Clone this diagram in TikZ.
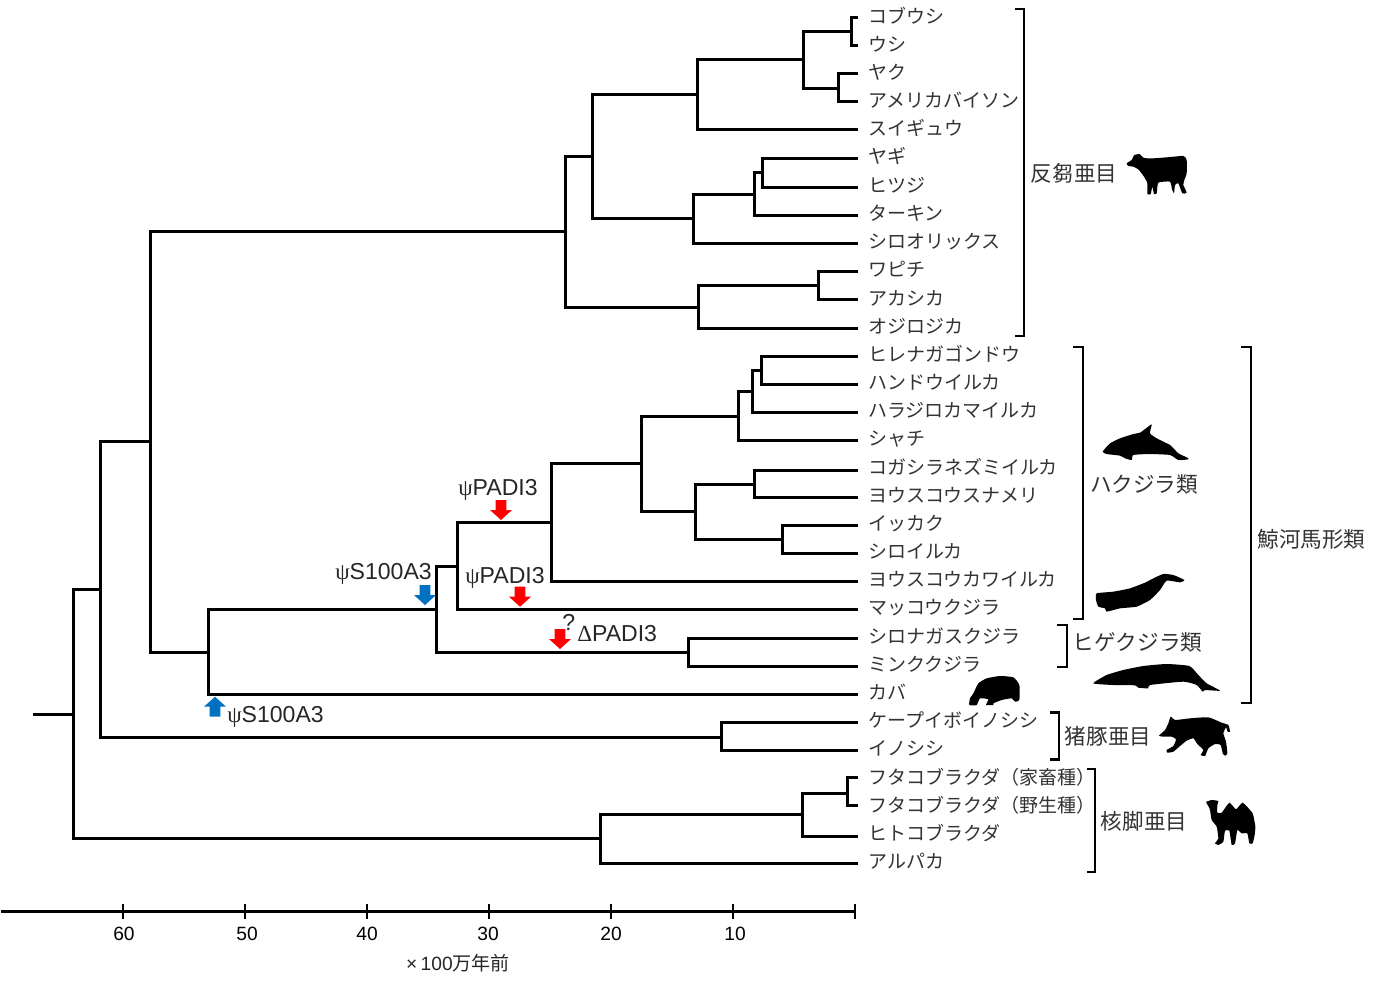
\documentclass[tikz,border=0pt]{standalone}
\usepackage{fontspec}
\setmainfont{Liberation Sans}
\newfontfamily\cjk{Noto Sans CJK JP}
\newfontfamily\grk{Liberation Serif}
\newcommand{\clade}[3]{\draw[treeline] (#2) -| (#1) |- (#3);}
\newcommand{\downarr}[3]{\fill[#1] (#2-5.3,#3-20) -- (#2+5.3,#3-20) -- (#2+5.3,#3-10) -- (#2+11,#3-10) -- (#2,#3) -- (#2-11,#3-10) -- (#2-5.3,#3-10) -- (#2-5.3,#3-20) -- cycle;}
\newcommand{\uparr}[3]{\fill[#1] (#2-5.3,#3+20) -- (#2+5.3,#3+20) -- (#2+5.3,#3+10) -- (#2+11,#3+10) -- (#2,#3) -- (#2-11,#3+10) -- (#2-5.3,#3+10) -- (#2-5.3,#3+20) -- cycle;}
\definecolor{ubl}{HTML}{0070C0}
\definecolor{txt}{HTML}{333333}
\tikzset{
 treeline/.style={line width=2.25pt,line join=miter,line cap=butt,black},
 bracket/.style={line width=2pt,black},
 lab/.style={anchor=west,inner sep=0pt,yshift=-.75pt,text=txt,font=\cjk\fontsize{14.25}{16}\selectfont,text height=.88em,text depth=.12em},
 grp/.style={anchor=center,inner sep=0pt,yshift=-.75pt,text=txt,font=\cjk\fontsize{16.2}{18}\selectfont,text height=.88em,text depth=.12em},
 gene/.style={anchor=west,inner sep=0pt,text=black!85,font=\fontsize{17.3}{19}\selectfont},
 tick/.style={anchor=center,inner sep=0pt,text=black,font=\fontsize{14.4}{16}\selectfont},
 sil/.style={fill=black,draw=none},
 axisline/.style={line width=2.25pt,black},
 axistick/.style={line width=2pt,black},
}
\begin{document}
\begin{tikzpicture}[x=.75pt,y=-.75pt]
\useasboundingbox (0,0) rectangle (1380,988);
% leaf labels
\foreach \nm/\yy/\ey/\tx in {
 1/17.5/18/コブウシ,2/45.5/46/ウシ,3/73.5/74/ヤク,4/101.5/102/アメリカバイソン,5/129.5/130/スイギュウ,
 6/157.5/159/ヤギ,7/186.5/187/ヒツジ,8/214.5/215/ターキン,9/242.5/243/シロオリックス,10/270.5/271/ワピチ,
 11/299.5/299/アカシカ,12/327.5/328/オジロジカ,13/355.5/356/ヒレナガゴンドウ,14/383.5/384/ハンドウイルカ,
 15/411.5/412/ハラジロカマイルカ,16/439.5/440/シャチ,17/468.5/470/コガシラネズミイルカ,18/496.5/497/ヨウスコウスナメリ,
 19/524.5/525/イッカク,20/552.5/553/シロイルカ,21/580.5/581/ヨウスコウカワイルカ,22/608.5/609/マッコウクジラ,
 23/637.5/638/シロナガスクジラ,24/665.5/666/ミンククジラ,25/693.5/694/カバ,26/721.5/722/ケープイボイノシシ,
 27/749.5/750/イノシシ,28/778.5/777/フタコブラクダ（家畜種）,29/806.5/805/フタコブラクダ（野生種）,
 30/834.5/836/ヒトコブラクダ,31/862.5/863/アルパカ}{
 \node[lab] (t\nm) at (868,\yy) {\tx};
 \coordinate (e\nm) at (858,\ey);
}
% internal nodes
\coordinate (root) at (73,714);
\coordinate (stub) at (33,714);
\coordinate (camel) at (600,838);
\coordinate (camelB) at (802,814);
\coordinate (camelC) at (847,793);
\coordinate (cet) at (100,589);
\coordinate (suid) at (721,737);
\coordinate (art) at (150,441);
\coordinate (rum) at (565,231);
\coordinate (rumA) at (592,157);
\coordinate (bov) at (697,95);
\coordinate (bovA) at (803,60);
\coordinate (bovB) at (851,32);
\coordinate (bovC) at (838,89);
\coordinate (cap) at (693,218);
\coordinate (capA) at (754,194);
\coordinate (capB) at (762,172);
\coordinate (cer) at (698,307);
\coordinate (cerA) at (818,285);
\coordinate (whip) at (208,652);
\coordinate (ceta) at (436,609);
\coordinate (myst) at (688,652);
\coordinate (odo) at (457,566);
\coordinate (odoA) at (551,522);
\coordinate (odoB) at (641,463);
\coordinate (delA) at (738,416);
\coordinate (delB) at (752,391);
\coordinate (delC) at (761,370);
\coordinate (phoA) at (695,511);
\coordinate (phoB) at (754,484);
\coordinate (monB) at (782,539);
% tree
\draw[treeline] (stub) -- (root);
\clade{root}{cet}{camel}
\clade{camel}{camelB}{e31}
\clade{camelB}{camelC}{e30}
\clade{camelC}{e28}{e29}
\clade{cet}{art}{suid}
\clade{suid}{e26}{e27}
\clade{art}{rum}{whip}
\clade{rum}{rumA}{cer}
\clade{rumA}{bov}{cap}
\clade{bov}{bovA}{e5}
\clade{bovA}{bovB}{bovC}
\clade{bovB}{e1}{e2}
\clade{bovC}{e3}{e4}
\clade{cap}{capA}{e9}
\clade{capA}{capB}{e8}
\clade{capB}{e6}{e7}
\clade{cer}{cerA}{e12}
\clade{cerA}{e10}{e11}
\clade{whip}{ceta}{e25}
\clade{ceta}{odo}{myst}
\clade{myst}{e23}{e24}
\clade{odo}{odoA}{e22}
\clade{odoA}{odoB}{e21}
\clade{odoB}{delA}{phoA}
\clade{delA}{delB}{e16}
\clade{delB}{delC}{e15}
\clade{delC}{e13}{e14}
\clade{phoA}{phoB}{monB}
\clade{phoB}{e17}{e18}
\clade{monB}{e19}{e20}
% brackets
\draw[bracket] (1015,9) -| (1024,336) -- (1015,336);
\draw[bracket] (1073,347) -| (1083,619) -- (1073,619);
\draw[bracket] (1241,347) -| (1251,703) -- (1241,703);
\draw[bracket] (1057,625) -| (1067,667) -- (1057,667);
\draw[bracket] (1050,712.5) -| (1059,759.5) -- (1050,759.5);
\draw[bracket] (1087,769) -| (1095,872) -- (1087,872);
% group labels
\node[grp] (g1) at (1074,175.5) {反芻亜目};
\node[grp] (g2) at (1144,486.5) {ハクジラ類};
\node[grp] (g3) at (1311.5,541.5) {鯨河馬形類};
\node[grp] (g4) at (1137.5,644.5) {ヒゲクジラ類};
\node[grp] (g5) at (1108,738.5) {猪豚亜目};
\node[grp] (g6) at (1144,823.5) {核脚亜目};
% gene labels
\node[gene] (p1) at (458,490) {{\grk ψ}PADI3};
\node[gene] (p2) at (465,578) {{\grk ψ}PADI3};
\node[gene] (s1) at (335,574) {{\grk ψ}S100A3};
\node[gene] (s2) at (227,717) {{\grk ψ}S100A3};
\node[gene] (d1) at (577,634) {{\grk Δ}PADI3};
\node[gene] (q1) at (562,622) {?};
% arrows
\downarr{red}{501}{520}
\downarr{red}{520}{606.7}
\downarr{red}{560}{649}
\downarr{ubl}{425}{605}
\uparr{ubl}{215}{696.7}
% axis
\coordinate (a0) at (1,911);
\coordinate (a1) at (855,911);
\draw[axisline] (a0) -- (a1);
\foreach \xx in {123,245,367,489,611,733,855}{\draw[axistick] (\xx,904) -- (\xx,919);}
\node[tick] (x60) at (124,934) {60};
\node[tick] (x50) at (247,934) {50};
\node[tick] (x40) at (367,934) {40};
\node[tick] (x30) at (488,934) {30};
\node[tick] (x20) at (611,934) {20};
\node[tick] (x10) at (735,934) {10};
\node[tick,text=black!85] (xu) at (458,963) {×\hspace{2.5pt}100{\cjk\fontsize{14.3}{16}\selectfont 万年前}};
% silhouettes
\begin{scope}[shift={(1020,130)},scale=1/3]
\fill[sil] plot[smooth cycle,tension=.3] coordinates {(320,100)(335,90)(342,76)(358,72)(372,84)(400,85)(440,82)(490,78)(500,90)(500,130)(493,150)(490,165)(500,188)(487,190)(475,160)(465,165)(462,190)(456,178)(450,155)(415,158)(410,190)(402,192)(397,170)(392,192)(382,192)(382,160)(372,140)(355,118)(340,110)(325,108)};
\end{scope}
\begin{scope}[shift={(1070,410)},scale=1/3]
\fill[sil] plot[smooth cycle,tension=.3] coordinates {(98,125)(120,100)(150,85)(190,72)(210,68)(228,55)(245,43)(240,70)(260,85)(300,105)(325,130)(352,143)(355,148)(325,150)(300,135)(240,132)(190,135)(185,150)(165,145)(150,137)(110,132)};
\fill[sil] plot[smooth cycle,tension=.3] coordinates {(80,550)(130,545)(180,535)(225,518)(250,505)(280,492)(310,495)(343,510)(330,517)(290,512)(270,540)(240,570)(200,590)(150,595)(110,605)(105,595)(85,590)(78,570)};
\fill[sil] plot[smooth cycle,tension=.3] coordinates {(70,820)(110,795)(160,780)(220,768)(290,762)(358,768)(385,795)(410,820)(450,842)(405,840)(398,845)(380,825)(340,815)(240,825)(235,835)(205,833)(195,826)(130,825)};
\end{scope}
\begin{scope}[shift={(960,670)},scale=1/3]
\fill[sil] plot[smooth cycle,tension=.3] coordinates {(28,105)(30,85)(40,70)(55,40)(80,25)(120,18)(160,22)(178,45)(178,90)(165,95)(155,85)(125,90)(100,100)(100,105)(78,105)(85,88)(60,85)(50,105)};
\fill[sil] plot[smooth cycle,tension=.3] coordinates {(597,197)(615,180)(625,160)(632,140)(645,150)(690,145)(745,142)(785,158)(805,165)(810,185)(803,185)(798,172)(790,190)(798,215)(802,250)(795,257)(788,250)(782,225)(765,222)(745,235)(735,258)(722,255)(730,240)(712,222)(700,205)(680,212)(660,228)(640,245)(622,248)(620,240)(640,228)(648,208)(635,200)(610,200)};
\fill[sil] plot[smooth cycle,tension=.25] coordinates {(738,396)(755,390)(775,393)(772,405)(772,428)(785,428)(808,398)(828,418)(848,398)(878,430)(886,470)(884,495)(878,520)(868,520)(862,490)(845,490)(832,480)(825,520)(815,525)(808,482)(795,482)(790,515)(775,525)(765,520)(775,505)(770,470)(755,450)(750,420)(745,408)};
\end{scope}
\end{tikzpicture}
\end{document}
